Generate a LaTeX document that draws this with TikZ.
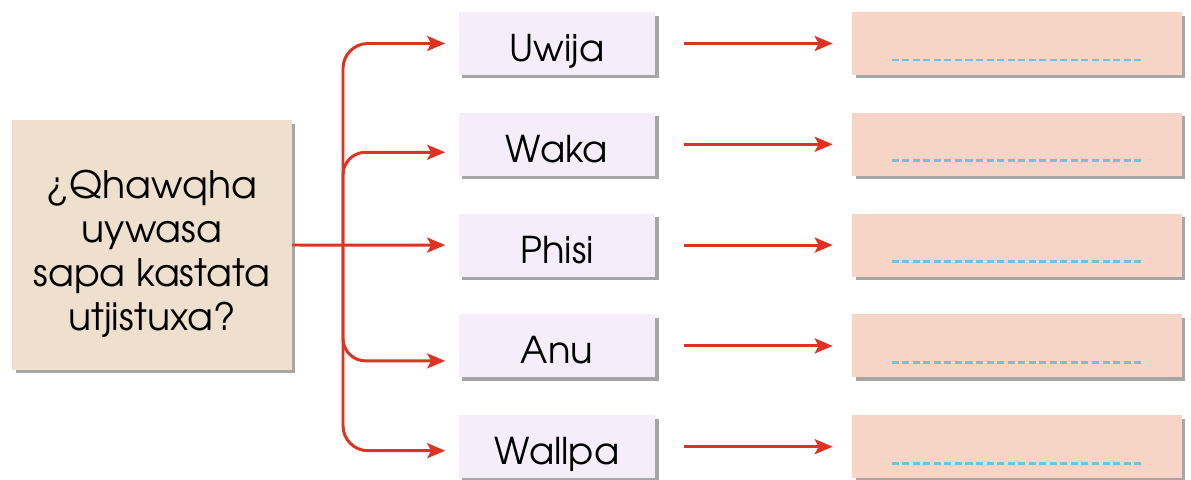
\documentclass[tikz,border=0pt]{standalone}
\usepackage{fontspec}
\setmainfont{TeX Gyre Adventor}
\usetikzlibrary{arrows.meta,shadows}
\definecolor{qcol}{HTML}{EFE0CE}
\definecolor{labcol}{HTML}{F5EEFA}
\definecolor{anscol}{HTML}{F6D5C7}
\definecolor{arrcol}{HTML}{E03222}
\definecolor{dashcol}{HTML}{6EC3E3}

\begin{document}
\begin{tikzpicture}[x=0.02cm, y=-0.02cm,
  every node/.style={inner sep=0pt},
  note/.style={drop shadow={shadow xshift=0.07cm, shadow yshift=-0.07cm, fill=black, opacity=0.35}},
  lab/.style={note, fill=labcol, minimum width=3.94cm, minimum height=1.26cm, text height=0.72cm, text depth=0pt, font=\fontsize{21}{25}\selectfont},
  ans/.style={note, fill=anscol, minimum width=6.6cm, minimum height=1.26cm},
  arr/.style={draw=arrcol, line width=1.7pt, -{Stealth[length=0.36cm, width=0.3cm, inset=0.08cm]}},
  gap/.style={draw=dashcol, line width=1.5pt, dash pattern=on 4pt off 2pt}]

\useasboundingbox (0,0) rectangle (1191,480);

% the question

\node[note, fill=qcol, minimum width=5.6cm, minimum height=5cm] (q) at (152,245) {};
\node[align=center, font=\fontsize{21.5}{25}\selectfont] (qtext) at (152,254) {¿Qhawqha\\uywasa\\sapa kastata\\utjistuxa?};
\coordinate (trunk) at (343,245);

% the five words

\node[lab] (l1) at (557,43.5) {Uwija};
\node[lab] (l2) at (557,144.3) {Waka};
\node[lab] (l3) at (557,245.1) {Phisi};
\node[lab] (l4) at (557,345.9) {Anu};
\node[lab] (l5) at (557,446.7) {Wallpa};

% the blank answers

\node[ans] (a1) at (1017,43.5) {};
\node[ans] (a2) at (1017,144.3) {};
\node[ans] (a3) at (1017,245.1) {};
\node[ans] (a4) at (1017,345.9) {};
\node[ans] (a5) at (1017,446.7) {};

\draw[gap] ([xshift=0.8cm, yshift=-0.33cm]a1.west) -- ([xshift=-0.8cm, yshift=-0.33cm]a1.east);
\draw[gap] ([xshift=0.8cm, yshift=-0.33cm]a2.west) -- ([xshift=-0.8cm, yshift=-0.33cm]a2.east);
\draw[gap] ([xshift=0.8cm, yshift=-0.33cm]a3.west) -- ([xshift=-0.8cm, yshift=-0.33cm]a3.east);
\draw[gap] ([xshift=0.8cm, yshift=-0.33cm]a4.west) -- ([xshift=-0.8cm, yshift=-0.33cm]a4.east);
\draw[gap] ([xshift=0.8cm, yshift=-0.33cm]a5.west) -- ([xshift=-0.8cm, yshift=-0.33cm]a5.east);

% edges

\draw[arr] (q.east) -- ([xshift=-0.26cm]l3.west);
\draw[arr, rounded corners=0.5cm] (trunk) |- ([xshift=-0.26cm]l1.west);
\draw[arr, rounded corners=0.45cm] (trunk) |- ([xshift=-0.26cm, yshift=-0.16cm]l2.west);
\draw[arr, rounded corners=0.45cm] (trunk) |- ([xshift=-0.26cm, yshift=-0.3cm]l4.west);
\draw[arr, rounded corners=0.5cm] (trunk) |- ([xshift=-0.26cm, yshift=-0.08cm]l5.west);

\draw[arr, shorten <=0.56cm, shorten >=0.38cm] (l1.east) -- (a1.west);
\draw[arr, shorten <=0.56cm, shorten >=0.38cm] (l2.east) -- (a2.west);
\draw[arr, shorten <=0.56cm, shorten >=0.38cm] (l3.east) -- (a3.west);
\draw[arr, shorten <=0.56cm, shorten >=0.38cm] (l4.east) -- (a4.west);
\draw[arr, shorten <=0.56cm, shorten >=0.38cm] (l5.east) -- (a5.west);

\end{tikzpicture}
\end{document}
